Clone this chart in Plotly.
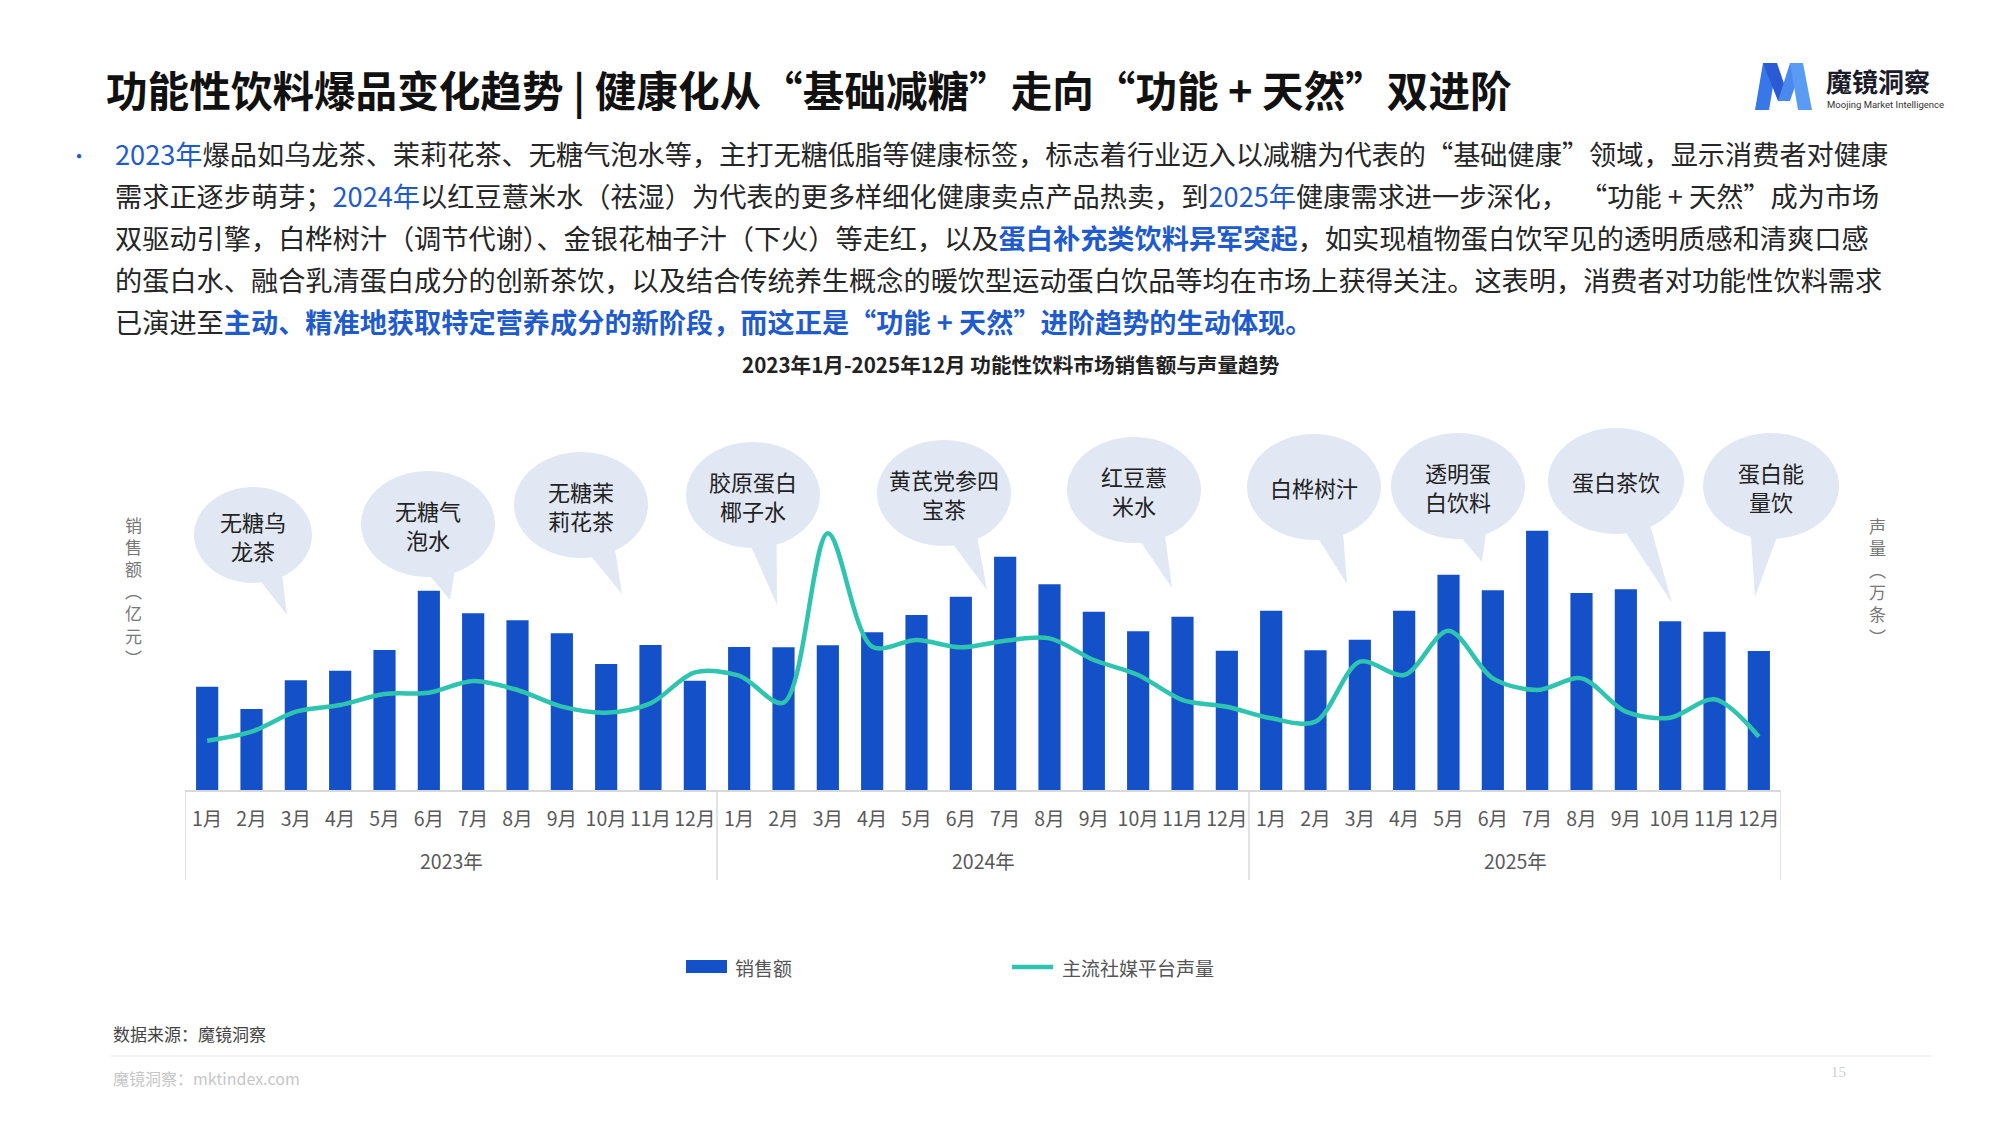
import math
import plotly.graph_objects as go

# ---------------- data ----------------
year_labels = ["2023年", "2024年", "2025年"]
month_labels = ["1月", "2月", "3月", "4月", "5月", "6月", "7月", "8月", "9月", "10月", "11月", "12月"]
periods = [f"{y}{m}" for y in year_labels for m in month_labels]
months = month_labels * 3

sales = [31.0, 24.3, 32.9, 35.8, 42.0, 59.8, 53.0, 50.9, 47.0, 37.8, 43.5, 32.8,
         42.9, 42.8, 43.4, 47.3, 52.5, 58.0, 70.0, 61.7, 53.5, 47.6, 52.0, 41.8,
         53.8, 41.9, 45.1, 53.8, 64.6, 59.9, 77.8, 59.1, 60.2, 50.6, 47.5, 41.7]

volume = [14.8, 17.5, 23.5, 25.5, 28.8, 29.2, 32.7, 30.0, 25.0, 23.2, 26.0, 35.3,
          34.3, 26.2, 77.0, 43.0, 45.0, 42.8, 44.8, 45.5, 39.0, 34.5, 27.0, 25.0,
          21.5, 20.5, 38.5, 34.5, 47.8, 33.5, 30.0, 33.5, 23.5, 21.7, 27.2, 16.0]

bubble_labels = ["无糖乌<br>龙茶", "无糖气<br>泡水", "无糖茉<br>莉花茶", "胶原蛋白<br>椰子水", "黄芪党参四<br>宝茶",
                 "红豆薏<br>米水", "白桦树汁", "透明蛋<br>白饮料", "蛋白茶饮", "蛋白能<br>量饮"]

# ---------------- layout helpers ----------------
W, H = 2000, 1125
L, R, T, B = 185, 219, 400, 335
PW = W - L - R
PH = H - T - B
YMAX = PH / 3.333

FONT = "Noto Sans CJK SC, Noto Sans, sans-serif"
BLUE_BAR = "#1450c8"
TEAL = "#2ec4b0"
TXT_BLUE = "#1f5bcc"
BUBBLE = "#e1e8f4"
AXIS_GREY = "#d9d9d9"


def px(x):
    return (x - L) / PW


def py(y):
    return (H - B - y) / PH


fig = go.Figure()
fig.add_trace(go.Bar(x=periods, y=sales, name="销售额", marker=dict(color=BLUE_BAR, line_width=0),
                     yaxis="y"))
fig.add_trace(go.Scatter(x=periods, y=volume, name="主流社媒平台声量", mode="lines",
                         line=dict(color=TEAL, width=4.5, shape="spline", smoothing=0.9), yaxis="y2"))

shapes = []
annotations = []

# ---- year group labels and dividers on the category axis ----
n_per_year = len(month_labels)
for k, yl in enumerate(year_labels):
    mid = k * n_per_year + (n_per_year - 1) / 2
    annotations.append(dict(x=mid, y=py(860), xref="x", yref="paper", xanchor="center", yanchor="middle",
                            showarrow=False, text=yl, font=dict(family=FONT, size=19.5, color="#595959")))
for k in range(len(year_labels) + 1):
    xb = k * n_per_year - 0.5
    shapes.append(dict(type="line", xref="x", yref="paper", x0=xb, x1=xb, y0=py(790), y1=py(880),
                       line=dict(color=AXIS_GREY, width=1.5)))

# ---- bubbles (pixel geometry: cx, cy, rx, ry, tip x, tip y) ----
bubble_geo = [
    (253, 535, 59, 48, 287, 615),
    (428, 524, 67, 53, 450, 600),
    (581, 505, 67, 53, 622, 594),
    (753, 495, 67, 53, 777, 605),
    (944, 493, 67, 53, 987, 590),
    (1134, 490, 67, 53, 1172, 588),
    (1314, 487, 67, 53, 1347, 584),
    (1458, 486, 67, 53, 1482, 562),
    (1616, 481, 68, 53, 1672, 603),
    (1771, 486, 68, 53, 1755, 597),
]
for lab, (cx, cy, rx, ry, tx, ty) in zip(bubble_labels, bubble_geo):
    shapes.append(dict(type="circle", xref="paper", yref="paper",
                       x0=px(cx - rx), x1=px(cx + rx), y0=py(cy + ry), y1=py(cy - ry),
                       fillcolor=BUBBLE, line=dict(width=0), layer="below"))
    ang = math.atan2((ty - cy) / ry, (tx - cx) / rx)
    d = 0.2
    p1 = (cx + rx * math.cos(ang - d) * 0.97, cy + ry * math.sin(ang - d) * 0.97)
    p2 = (cx + rx * math.cos(ang + d) * 0.97, cy + ry * math.sin(ang + d) * 0.97)
    path = (f"M{px(p1[0])},{py(p1[1])} L{px(tx)},{py(ty)} L{px(p2[0])},{py(p2[1])} "
            f"L{px(cx)},{py(cy)} Z")
    shapes.append(dict(type="path", xref="paper", yref="paper", path=path,
                       fillcolor=BUBBLE, line=dict(width=0), layer="below"))
    annotations.append(dict(x=px(cx), y=py(cy), xref="paper", yref="paper", text=lab,
                            showarrow=False, xanchor="center", yanchor="middle",
                            font=dict(family=FONT, size=22, color="#222222")))

# ---- title ----
annotations.append(dict(x=px(104), y=py(89), xref="paper", yref="paper", xanchor="left", yanchor="middle",
                        showarrow=False,
                        text="<b>功能性饮料爆品变化趋势 | 健康化从“基础减糖”走向“功能 + 天然”双进阶</b>",
                        font=dict(family=FONT, size=41.6, color="#111111")))

# ---- paragraph ----
def blue(s, bold=False):
    inner = f"<b>{s}</b>" if bold else s
    return f"<span style='color:{TXT_BLUE}'>{inner}</span>"

para_lines = [
    blue("2023年") + "爆品如乌龙茶、茉莉花茶、无糖气泡水等，主打无糖低脂等健康标签，标志着行业迈入以减糖为代表的“基础健康”领域，显示消费者对健康",
    "需求正逐步萌芽；" + blue("2024年") + "以红豆薏米水（祛湿）为代表的更多样细化健康卖点产品热卖，到" + blue("2025年") + "健康需求进一步深化，  “功能 + 天然”成为市场",
    "双驱动引擎，白桦树汁（调节代谢）、金银花柚子汁（下火）等走红，以及" + blue("蛋白补充类饮料异军突起", True) + "，如实现植物蛋白饮罕见的透明质感和清爽口感",
    "的蛋白水、融合乳清蛋白成分的创新茶饮，以及结合传统养生概念的暖饮型运动蛋白饮品等均在市场上获得关注。这表明，消费者对功能性饮料需求",
    "已演进至" + blue("主动、精准地获取特定营养成分的新阶段，而这正是“功能 + 天然”进阶趋势的生动体现。", True),
]
for i, ln in enumerate(para_lines):
    annotations.append(dict(x=px(113), y=py(153 + 42 * i), xref="paper", yref="paper", xanchor="left",
                            yanchor="middle", showarrow=False, text=ln,
                            font=dict(family=FONT, size=27.2, color="#262626")))
annotations.append(dict(x=px(79), y=py(155), xref="paper", yref="paper", xanchor="center", yanchor="middle",
                        showarrow=False, text="•", font=dict(family=FONT, size=20, color=TXT_BLUE)))

# ---- chart title ----
annotations.append(dict(x=px(1011), y=py(364), xref="paper", yref="paper", xanchor="center", yanchor="middle",
                        showarrow=False, text="<b>2023年1月-2025年12月 功能性饮料市场销售额与声量趋势</b>",
                        font=dict(family=FONT, size=20.6, color="#222222")))

# ---- axis titles (vertical, stacked characters) ----
annotations.append(dict(x=px(133), y=py(591), xref="paper", yref="paper", xanchor="center", yanchor="middle",
                        showarrow=False, text="销<br>售<br>额<br>︵<br>亿<br>元<br>︶",
                        font=dict(family=FONT, size=17, color="#777777")))
annotations.append(dict(x=px(1877), y=py(581), xref="paper", yref="paper", xanchor="center", yanchor="middle",
                        showarrow=False, text="声<br>量<br>︵<br>万<br>条<br>︶",
                        font=dict(family=FONT, size=17, color="#777777")))

# ---- custom legend ----
shapes.append(dict(type="rect", xref="paper", yref="paper", x0=px(686), x1=px(727), y0=py(973), y1=py(960),
                   fillcolor=BLUE_BAR, line=dict(width=0)))
annotations.append(dict(x=px(733), y=py(967), xref="paper", yref="paper", xanchor="left", yanchor="middle",
                        showarrow=False, text="销售额", font=dict(family=FONT, size=19, color="#555555")))
shapes.append(dict(type="line", xref="paper", yref="paper", x0=px(1012), x1=px(1053), y0=py(967), y1=py(967),
                   line=dict(color=TEAL, width=4.5)))
annotations.append(dict(x=px(1060), y=py(967), xref="paper", yref="paper", xanchor="left", yanchor="middle",
                        showarrow=False, text="主流社媒平台声量", font=dict(family=FONT, size=19, color="#555555")))

# ---- footer ----
annotations.append(dict(x=px(111), y=py(1033), xref="paper", yref="paper", xanchor="left", yanchor="middle",
                        showarrow=False, text="数据来源：魔镜洞察", font=dict(family=FONT, size=17, color="#444444")))
shapes.append(dict(type="line", xref="paper", yref="paper", x0=px(111), x1=px(1932), y0=py(1056), y1=py(1056),
                   line=dict(color="#efefef", width=1.5)))
annotations.append(dict(x=px(111), y=py(1078), xref="paper", yref="paper", xanchor="left", yanchor="middle",
                        showarrow=False, text="魔镜洞察：mktindex.com", font=dict(family=FONT, size=16, color="#c6c6c6")))
annotations.append(dict(x=px(1838), y=py(1072), xref="paper", yref="paper", xanchor="center", yanchor="middle",
                        showarrow=False, text="15", font=dict(family="Liberation Serif", size=15, color="#cfcfcf")))

# ---- logo ----
logo_parts = [
    ("M1755,110 L1763,63 L1777,63 L1769,110 Z", "#3877e8"),
    ("M1763,63 L1777,63 L1790,101 L1778,101 Z", "#2a5ad4"),
    ("M1778,101 L1790,101 L1803,63 L1790,63 Z", "#4a8aef"),
    ("M1790,63 L1803,63 L1812,110 L1798,110 Z", "#5a9cf4"),
]
for p, c in logo_parts:
    toks = p.replace("M", "").replace("L", "").replace("Z", "").split()
    pts = [tuple(map(float, t.split(","))) for t in toks]
    path = "M" + " L".join(f"{px(a)},{py(b)}" for a, b in pts) + " Z"
    shapes.append(dict(type="path", xref="paper", yref="paper", path=path, fillcolor=c, line=dict(width=0)))
annotations.append(dict(x=px(1824), y=py(80), xref="paper", yref="paper", xanchor="left", yanchor="middle",
                        showarrow=False, text="<b>魔镜洞察</b>", font=dict(family=FONT, size=26, color="#1b1b2a")))
annotations.append(dict(x=px(1825), y=py(104), xref="paper", yref="paper", xanchor="left", yanchor="middle",
                        showarrow=False, text="Moojing Market Intelligence",
                        font=dict(family="Roboto, sans-serif", size=9.5, color="#333333")))

fig.update_layout(
    width=W, height=H,
    margin=dict(l=L, r=R, t=T, b=B, pad=0),
    paper_bgcolor="white", plot_bgcolor="rgba(0,0,0,0)",
    showlegend=False,
    bargap=0.5,
    font=dict(family=FONT),
    xaxis=dict(type="category", categoryorder="array", categoryarray=periods,
               range=[-0.5, len(periods) - 0.5],
               tickmode="array", tickvals=periods, ticktext=months,
               showline=True, linecolor=AXIS_GREY, linewidth=1.5,
               showgrid=False, zeroline=False, ticks="outside", ticklen=11, tickcolor="rgba(0,0,0,0)",
               tickangle=0, tickfont=dict(family=FONT, size=19.5, color="#595959")),
    yaxis=dict(range=[0, YMAX], visible=False, showgrid=False, zeroline=False),
    yaxis2=dict(range=[0, YMAX], visible=False, overlaying="y", side="right", showgrid=False, zeroline=False),
    shapes=shapes,
    annotations=annotations,
)

fig.write_html("out.html")
